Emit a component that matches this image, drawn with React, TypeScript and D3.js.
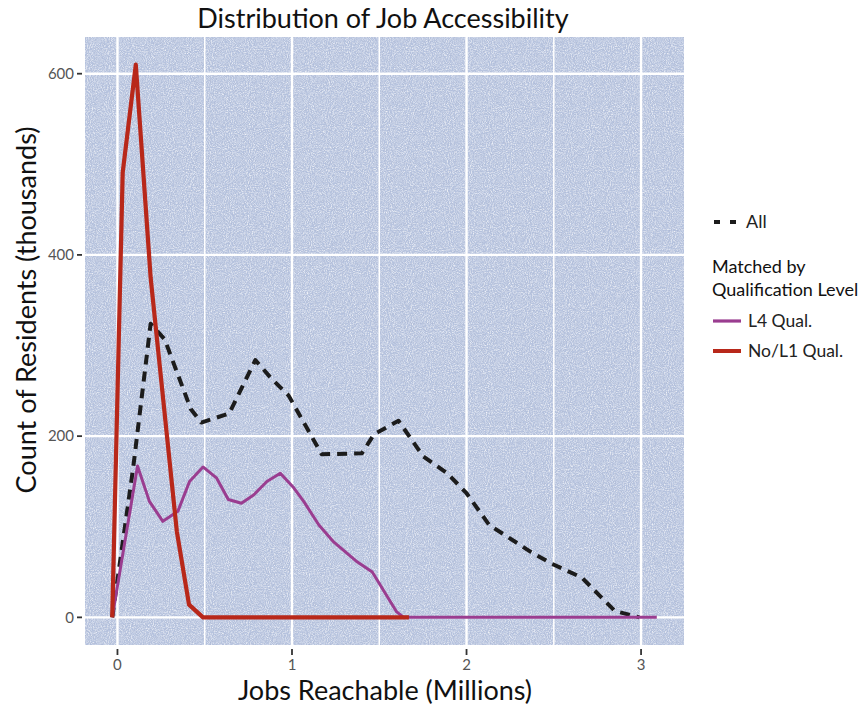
import React from "react";
import * as d3 from "d3";

// ---- data (x in millions of jobs, y in thousands of residents) ----
const allX = [-0.03, 0.09, 0.19, 0.27, 0.42, 0.48, 0.64, 0.79, 0.88, 0.98, 1.17, 1.40, 1.47, 1.61, 1.75, 1.89, 2.00, 2.13, 2.37, 2.49, 2.66, 2.85, 2.99];
const allY = [0, 165, 324, 307, 230, 215, 225, 284, 264, 245, 180, 181, 202, 217, 178, 159, 137, 102, 72, 59, 44, 7, 0];

const l4X = [-0.03, 0.115, 0.183, 0.26, 0.346, 0.413, 0.49, 0.567, 0.635, 0.71, 0.78, 0.856, 0.933, 1.01, 1.067, 1.154, 1.24, 1.375, 1.46, 1.53, 1.6, 1.64, 3.09];
const l4Y = [0, 167, 128, 106, 117, 150, 166, 154, 130, 126, 135, 150, 159, 143, 128, 102, 83, 61, 50, 28, 6, 0, 0];

const l1X = [-0.03, 0.03, 0.105, 0.19, 0.34, 0.41, 0.49, 1.67];
const l1Y = [0, 491, 610, 375, 95, 14, 0, 0];

const xTicks = [0, 1, 2, 3];
const xMinor = [0.5, 1.5, 2.5];
const yTicks = [0, 200, 400, 600];

const title = "Distribution of Job Accessibility";
const xTitle = "Jobs Reachable (Millions)";
const yTitle = "Count of Residents (thousands)";
const legendAll = "All";
const legendGroupTitle = ["Matched by", "Qualification Level"];
const legendL4 = "L4 Qual.";
const legendL1 = "No/L1 Qual.";

const FONT = "Lato, 'Open Sans', sans-serif";

export default function App() {
  const W = 866, H = 706;
  const left = 85, right = 684, top = 37, bottom = 645;
  const x = d3.scaleLinear().domain([-0.186, 3.246]).range([left, right]);
  const y = d3.scaleLinear().domain([-30.5, 640.5]).range([bottom, top]);

  const line = d3
    .line<[number, number]>()
    .x((d) => x(d[0]))
    .y((d) => y(d[1]));

  const pts = (xs: number[], ys: number[]) => xs.map((v, i) => [v, ys[i]] as [number, number]);

  return (
    <svg width={W} height={H} style={{ display: "block", position: "absolute", left: 0, top: 0 }}>
      <defs>
        <filter id="noiseW" x="0" y="0" width="100%" height="100%">
          <feTurbulence type="fractalNoise" baseFrequency="0.95" numOctaves="2" seed="4" />
          <feColorMatrix type="matrix" values="0 0 0 0 1  0 0 0 0 1  0 0 0 0 1  0 0 0 1.6 -0.6" />
        </filter>
        <filter id="noiseD" x="0" y="0" width="100%" height="100%">
          <feTurbulence type="fractalNoise" baseFrequency="0.85" numOctaves="2" seed="9" />
          <feColorMatrix type="matrix" values="0 0 0 0 0.4  0 0 0 0 0.45  0 0 0 0 0.6  0 0 0 1.4 -0.64" />
        </filter>
        <clipPath id="panel">
          <rect x={left} y={top} width={right - left} height={bottom - top} />
        </clipPath>
      </defs>
      <rect x={0} y={0} width={W} height={H} fill="#ffffff" />
      {/* panel */}
      <rect x={left} y={top} width={right - left} height={bottom - top} fill="#b6c3df" />
      <rect x={left} y={top} width={right - left} height={bottom - top} filter="url(#noiseW)" />
      <rect x={left} y={top} width={right - left} height={bottom - top} filter="url(#noiseD)" />
      {/* grid */}
      <g clipPath="url(#panel)">
        {xMinor.map((t) => (
          <line key={"xm" + t} x1={x(t)} x2={x(t)} y1={top} y2={bottom} stroke="#ffffff" strokeWidth={1.5} />
        ))}
        {xTicks.map((t) => (
          <line key={"xg" + t} x1={x(t)} x2={x(t)} y1={top} y2={bottom} stroke="#ffffff" strokeWidth={2.4} />
        ))}
        {yTicks.map((t) => (
          <line key={"yg" + t} x1={left} x2={right} y1={y(t)} y2={y(t)} stroke="#ffffff" strokeWidth={2.4} />
        ))}
      </g>
      {/* series */}
      <g clipPath="url(#panel)" fill="none" strokeLinejoin="round">
        <path d={line(pts(allX, allY)) || ""} stroke="#1c1c1c" strokeWidth={4} strokeDasharray="10,7" />
        <path d={line(pts(l4X, l4Y)) || ""} stroke="#9a3d90" strokeWidth={3} />
        <path d={line(pts(l1X, l1Y)) || ""} stroke="#b8281a" strokeWidth={4.2} />
      </g>
      {/* axes ticks */}
      {yTicks.map((t) => (
        <g key={"yt" + t}>
          <line x1={left - 8} x2={left - 3} y1={y(t)} y2={y(t)} stroke="#333" strokeWidth={1.8} />
          <text x={left - 11} y={y(t)} dy="0.35em" textAnchor="end" fontFamily={FONT} fontSize={15} fill="#555">
            {t}
          </text>
        </g>
      ))}
      {xTicks.map((t) => (
        <g key={"xt" + t}>
          <line x1={x(t)} x2={x(t)} y1={bottom + 4} y2={bottom + 10} stroke="#333" strokeWidth={1.8} />
          <text x={x(t)} y={bottom + 25} textAnchor="middle" fontFamily={FONT} fontSize={15} fill="#555">
            {t}
          </text>
        </g>
      ))}
      {/* titles */}
      <text x={383} y={28} textAnchor="middle" fontFamily={FONT} fontSize={27} fill="#111">
        {title}
      </text>
      <text x={385} y={700} textAnchor="middle" fontFamily={FONT} fontSize={27} fill="#111">
        {xTitle}
      </text>
      <text
        transform={`translate(36,310) rotate(-90)`}
        textAnchor="middle"
        fontFamily={FONT}
        fontSize={27}
        fill="#111"
      >
        {yTitle}
      </text>
      {/* legend */}
      <g fontFamily={FONT}>
        <line x1={714} x2={740} y1={222} y2={222} stroke="#1c1c1c" strokeWidth={4} strokeDasharray="6,10" />
        <text x={746} y={222} dy="0.35em" fontSize={18} fill="#222">
          {legendAll}
        </text>
        <text x={712} y={267} dy="0.35em" fontSize={18} fill="#111">
          {legendGroupTitle[0]}
        </text>
        <text x={712} y={290} dy="0.35em" fontSize={18} fill="#111">
          {legendGroupTitle[1]}
        </text>
        <line x1={713} x2={741} y1={321} y2={321} stroke="#9a3d90" strokeWidth={3.2} />
        <text x={748} y={321} dy="0.35em" fontSize={17.5} fill="#222">
          {legendL4}
        </text>
        <line x1={713} x2={741} y1={351} y2={351} stroke="#b8281a" strokeWidth={4} />
        <text x={748} y={351} dy="0.35em" fontSize={17.5} fill="#222">
          {legendL1}
        </text>
      </g>
    </svg>
  );
}
